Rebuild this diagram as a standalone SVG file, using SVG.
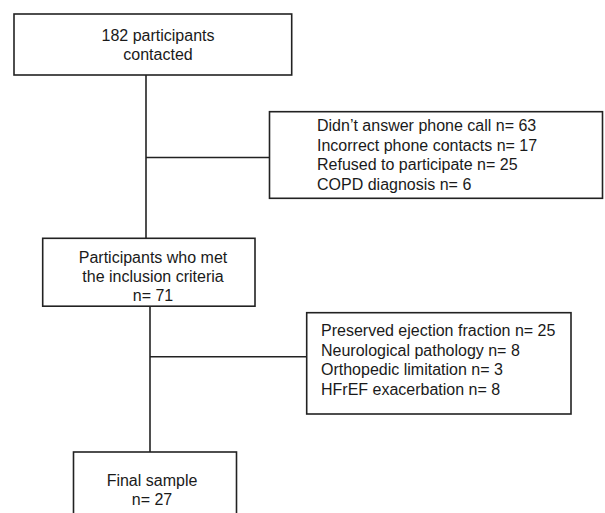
<svg xmlns="http://www.w3.org/2000/svg" width="605" height="513" viewBox="0 0 605 513">
<style>
.box{fill:#fff;stroke:#222;stroke-width:1.6}
.ln{fill:none;stroke:#222;stroke-width:1.6}
text{font-family:"Liberation Sans",Arial,sans-serif;font-size:16px;fill:#1a1a1a}
.c{text-anchor:middle}
</style>
<rect width="605" height="513" fill="#fff"/>
<g id="connectors">
<line class="ln" x1="146" y1="75" x2="146" y2="238.5"/>
<line class="ln" x1="146" y1="157.5" x2="269.5" y2="157.5"/>
<line class="ln" x1="150" y1="306.5" x2="150" y2="452"/>
<line class="ln" x1="150" y1="356.7" x2="307" y2="356.7"/>
</g>
<g id="n1">
<rect class="box" x="14" y="14" width="277.7" height="61"/>
<text class="c" x="158" y="40.5">182 participants</text>
<text class="c" x="158" y="60">contacted</text>
</g>
<g id="excl1">
<rect class="box" x="269.5" y="111.7" width="333" height="86.6"/>
<text x="317" y="131">Didn’t answer phone call n= 63</text>
<text x="317" y="150.7">Incorrect phone contacts n= 17</text>
<text x="317" y="170.3">Refused to participate n= 25</text>
<text x="317" y="190">COPD diagnosis n= 6</text>
</g>
<g id="n2">
<rect class="box" x="42.7" y="238.3" width="212.3" height="67.9"/>
<text class="c" x="153" y="262.5">Participants who met</text>
<text class="c" x="153" y="281.7">the inclusion criteria</text>
<text class="c" x="153" y="300.7">n= 71</text>
</g>
<g id="excl2">
<rect class="box" x="306.7" y="312.7" width="264.3" height="101.3"/>
<text x="321" y="336">Preserved ejection fraction n= 25</text>
<text x="321" y="355.5">Neurological pathology n= 8</text>
<text x="321" y="375">Orthopedic limitation n= 3</text>
<text x="321" y="394.5">HFrEF exacerbation n= 8</text>
</g>
<g id="n3">
<rect class="box" x="73.5" y="452" width="163" height="80"/>
<text class="c" x="152" y="486">Final sample</text>
<text class="c" x="152" y="504.5">n= 27</text>
</g>
</svg>
